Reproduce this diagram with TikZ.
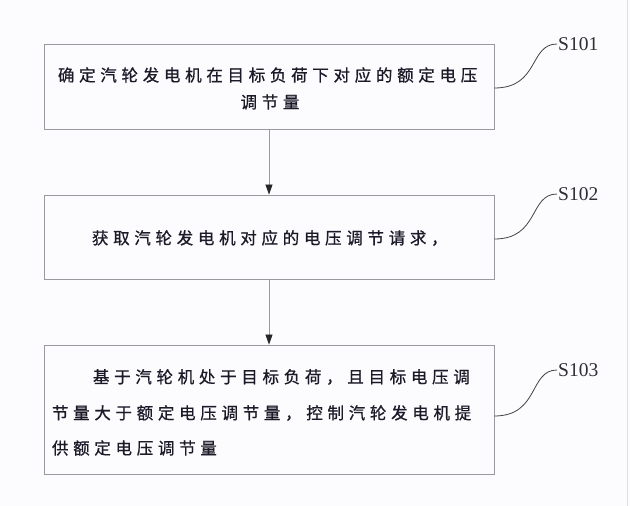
\documentclass[tikz,border=0pt]{standalone}
\usepackage{fontspec}
\setmainfont{Liberation Serif}
\newfontfamily\cjk[FakeBold=0.8]{Noto Sans CJK SC}
\usetikzlibrary{arrows.meta}
\definecolor{bgc}{HTML}{FCFCFE}
\definecolor{boxc}{HTML}{9A9A9E}
\definecolor{txtc}{HTML}{1C1A28}
\definecolor{lblc}{HTML}{2E2E34}
\makeatletter
\def\cjksp@ced#1{\ifx\relax#1\else\makebox[21.2pt]{#1}\expandafter\cjksp@ced\fi}
\newcommand\cjkspaced[1]{\cjksp@ced#1\relax}
\makeatother
\tikzset{
  stepbox/.style={draw=boxc, line width=0.9pt, minimum width=450pt, inner sep=0pt},
  cjktext/.style={inner sep=0pt, font=\cjk\fontsize{16.5}{16.5}\selectfont, text=txtc},
  steplabel/.style={inner sep=1pt, anchor=west, font=\fontsize{19.5}{19.5}\selectfont, text=lblc},
  leader/.style={draw=lblc!90, line width=0.8pt},
  flow/.style={draw=boxc, line width=0.8pt, -{Triangle[length=10pt,width=7pt,color=black!85]}}
}
\begin{document}
\begin{tikzpicture}[x=1pt,y=-1pt]
  \fill[bgc] (0,0) rectangle (630,506);
  \useasboundingbox (0,0) rectangle (630,506);
  \draw[gray!25, line width=0.8pt] (627,0) -- (627,506);

  \node[stepbox, minimum height=85pt] (b1) at (269,86.5) {};
  \node[stepbox, minimum height=84pt] (b2) at (269,237) {};
  \node[stepbox, minimum height=129pt] (b3) at (269,409.5) {};

  \node[cjktext, anchor=west] (t11) at (55.4,75) {\cjkspaced{确定汽轮发电机在目标负荷下对应的额定电压}};
  \node[cjktext] (t12) at (270,102) {\cjkspaced{调节量}};
  \node[cjktext, anchor=west] (t21) at (89.4,238) {\cjkspaced{获取汽轮发电机对应的电压调节请求，}};
  \node[cjktext, anchor=west] (t31) at (90.4,377) {\cjkspaced{基于汽轮机处于目标负荷，且目标电压调}};
  \node[cjktext, anchor=west] (t32) at (49.4,413) {\cjkspaced{节量大于额定电压调节量，控制汽轮发电机提}};
  \node[cjktext, anchor=west] (t33) at (49.4,448) {\cjkspaced{供额定电压调节量}};

  \node[steplabel] (l1) at (557,44) {S101};
  \node[steplabel] (l2) at (557,194) {S102};
  \node[steplabel] (l3) at (557,370) {S103};

  \draw[leader] ([yshift=-1.5pt]b1.east) .. controls +(45,0) and +(-28,0) .. (l1.west);
  \draw[leader] ([yshift=-2pt]b2.east) .. controls +(45,0) and +(-28,0) .. (l2.west);
  \draw[leader] ([yshift=-6.5pt]b3.east) .. controls +(45,0) and +(-28,0) .. (l3.west);

  \draw[flow] (b1.south) -- (b2.north);
  \draw[flow] (b2.south) -- (b3.north);
\end{tikzpicture}
\end{document}
